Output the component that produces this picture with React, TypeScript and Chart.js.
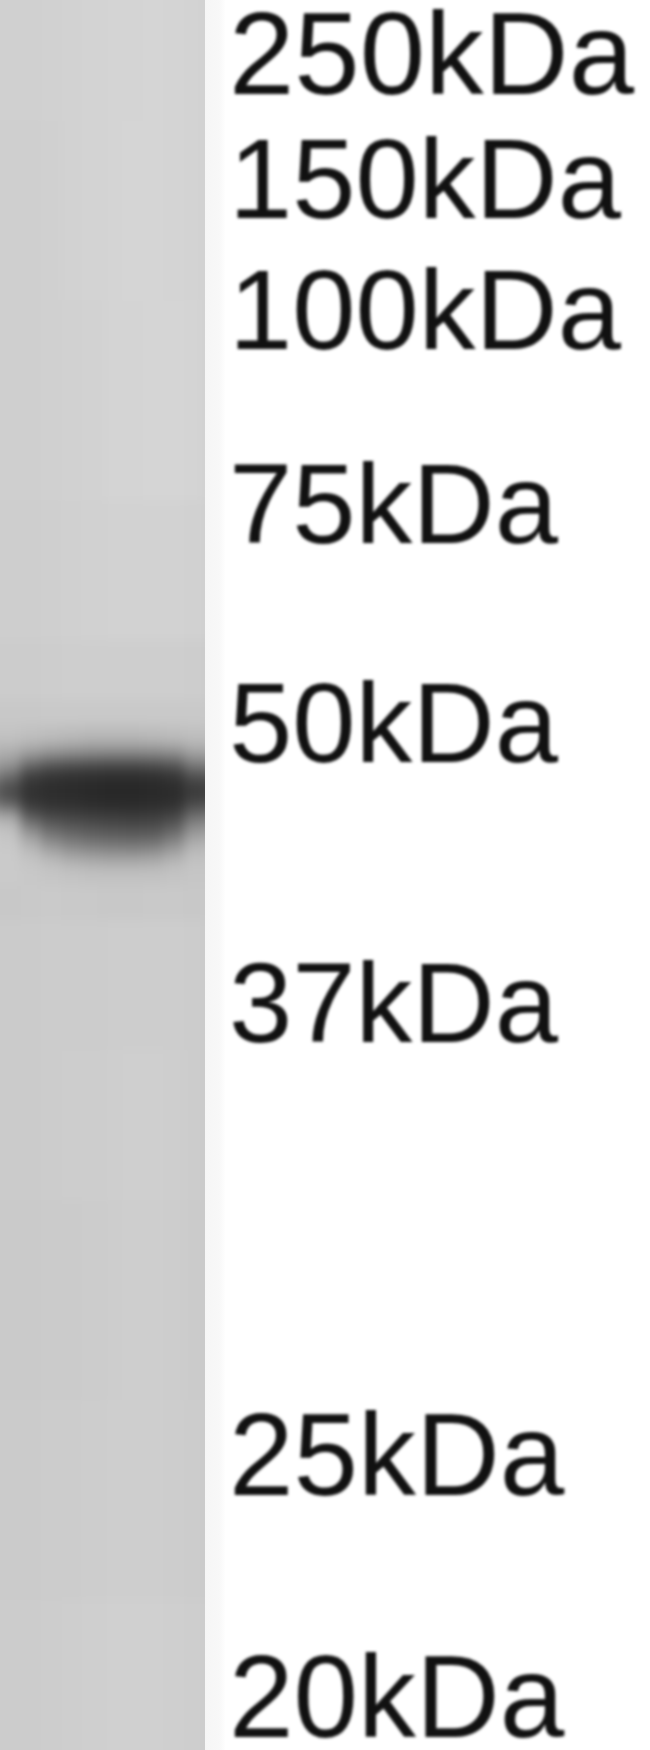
import { useEffect, useRef } from 'react'
import { Chart, registerables } from 'chart.js'

Chart.register(...registerables)

// marker ladder: label and where it sits along the migration axis
const markerLabels = ['250kDa', '150kDa', '100kDa', '75kDa', '50kDa', '37kDa', '25kDa', '20kDa']
const markerPositions = [62, 187, 318, 512, 731, 1011, 1463, 1705]
// the labels were pasted on by hand, so they differ slightly in size
const markerFontSizes = [117.5, 113.7, 113.7, 113.8, 113.8, 113.8, 116, 116]

// lane cells: 12 columns across the lane, rows cut at these distances
const laneColumns = ['c1', 'c2', 'c3', 'c4', 'c5', 'c6', 'c7', 'c8', 'c9', 'c10', 'c11', 'c12']
const rowEdges = [-20, 120, 300, 500, 640, 700, 725, 740, 750, 760, 770, 780, 790, 800, 810, 820, 830, 840, 850, 860, 870, 885, 920, 1050, 1200, 1400, 1600, 1770]
const rowGrays = [
  [208, 208, 208, 209, 210, 211, 212, 212, 213, 212, 211, 209],
  [207, 207, 207, 208, 210, 211, 212, 213, 213, 212, 211, 209],
  [207, 207, 207, 208, 209, 210, 212, 212, 213, 213, 212, 209],
  [206, 206, 206, 207, 208, 209, 210, 210, 210, 210, 209, 208],
  [204, 204, 204, 205, 206, 206, 206, 206, 206, 206, 205, 204],
  [200, 200, 200, 201, 201, 201, 201, 201, 201, 201, 201, 200],
  [195, 195, 192, 190, 188, 186, 186, 186, 188, 190, 192, 192],
  [186, 184, 176, 170, 166, 162, 162, 162, 164, 168, 178, 180],
  [176, 168, 148, 136, 130, 126, 124, 124, 126, 132, 154, 158],
  [160, 146, 104, 86, 80, 76, 74, 74, 78, 86, 120, 126],
  [138, 112, 66, 56, 52, 50, 48, 48, 50, 56, 84, 90],
  [108, 82, 52, 46, 44, 42, 40, 40, 42, 46, 62, 66],
  [100, 76, 50, 46, 44, 42, 40, 40, 42, 44, 60, 64],
  [128, 108, 60, 52, 50, 46, 44, 44, 46, 50, 78, 86],
  [170, 160, 88, 70, 66, 62, 60, 58, 60, 68, 108, 120],
  [194, 186, 124, 96, 86, 80, 76, 74, 76, 90, 136, 148],
  [200, 196, 156, 122, 108, 100, 96, 94, 96, 116, 158, 168],
  [202, 200, 178, 150, 134, 126, 122, 120, 124, 144, 178, 184],
  [202, 202, 192, 176, 162, 156, 152, 152, 156, 170, 190, 192],
  [202, 202, 198, 192, 184, 180, 178, 178, 180, 188, 196, 196],
  [202, 202, 200, 198, 196, 194, 194, 194, 194, 196, 198, 198],
  [200, 200, 201, 202, 201, 201, 200, 200, 201, 201, 200, 200],
  [203, 203, 203, 204, 204, 204, 205, 205, 205, 205, 204, 203],
  [203, 203, 203, 204, 205, 205, 206, 207, 207, 206, 204, 203],
  [202, 202, 202, 203, 203, 204, 205, 206, 206, 205, 203, 202],
  [203, 203, 203, 204, 204, 205, 206, 206, 206, 205, 204, 203],
  [204, 204, 204, 205, 206, 207, 208, 208, 208, 207, 206, 205],
]

const gray = (v: number) => `rgb(${v},${v},${v})`

export default function App() {
  const laneRef = useRef<HTMLCanvasElement>(null)
  const markerRef = useRef<HTMLCanvasElement>(null)

  useEffect(() => {
    if (!laneRef.current || !markerRef.current) return

    const lane = new Chart(laneRef.current, {
      type: 'bar',
      data: {
        labels: laneColumns,
        datasets: rowGrays.map((row, i) => ({
          label: `row ${i}`,
          data: row.map(() => [rowEdges[i], rowEdges[i + 1]]),
          backgroundColor: row.map(gray),
          barPercentage: 1,
          categoryPercentage: 1,
          grouped: false,
        })),
      } as any,
      options: {
        responsive: false,
        animation: false,
        plugins: { legend: { display: false }, tooltip: { enabled: false } },
        scales: {
          x: { display: false },
          y: { display: false, reverse: true, min: -20, max: 1770 },
        },
      },
    })

    const markers = new Chart(markerRef.current, {
      type: 'bar',
      data: { labels: [''], datasets: [{ label: 'markers', data: [null] }] } as any,
      options: {
        responsive: false,
        animation: false,
        plugins: { legend: { display: false }, tooltip: { enabled: false } },
        scales: {
          x: { display: false },
          y: {
            position: 'right',
            reverse: true,
            min: 0,
            max: 1750,
            border: { display: false },
            grid: { display: false, drawTicks: false },
            afterBuildTicks: (s: any) => {
              s.ticks = markerPositions.map(value => ({ value }))
            },
            afterFit: (s: any) => {
              s.width = 421
              s.paddingTop = 0
              s.paddingBottom = 0
            },
            ticks: {
              autoSkip: false,
              padding: 0,
              color: '#111111',
              font: (ctx: any) => ({ family: '"Liberation Sans"', size: markerFontSizes[ctx.index] ?? 114 }),
              callback: (v: any) => markerLabels[markerPositions.indexOf(Number(v))] ?? '',
            },
          },
        },
      },
    })

    return () => {
      lane.destroy()
      markers.destroy()
    }
  }, [])

  return (
    <div style={{ position: 'absolute', left: 0, top: 0, width: 650, height: 1750, overflow: 'hidden', background: '#fff' }}>
      <div style={{ position: 'absolute', left: 205, top: 0, width: 20, height: 1750, background: 'linear-gradient(to right, #f6f6f6, #f8f8f8 70%, #fefefe)' }} />
      <div style={{ position: 'absolute', left: 0, top: 0, width: 205, height: 1750, overflow: 'hidden', background: '#cdcdcd' }}>
        <canvas ref={laneRef} width={245} height={1790} style={{ position: 'absolute', left: -20, top: -20, filter: 'blur(6px)' }} />
      </div>
      <canvas ref={markerRef} width={650} height={1750} style={{ position: 'absolute', left: 0, top: 0, filter: 'blur(1.5px)' }} />
    </div>
  )
}
